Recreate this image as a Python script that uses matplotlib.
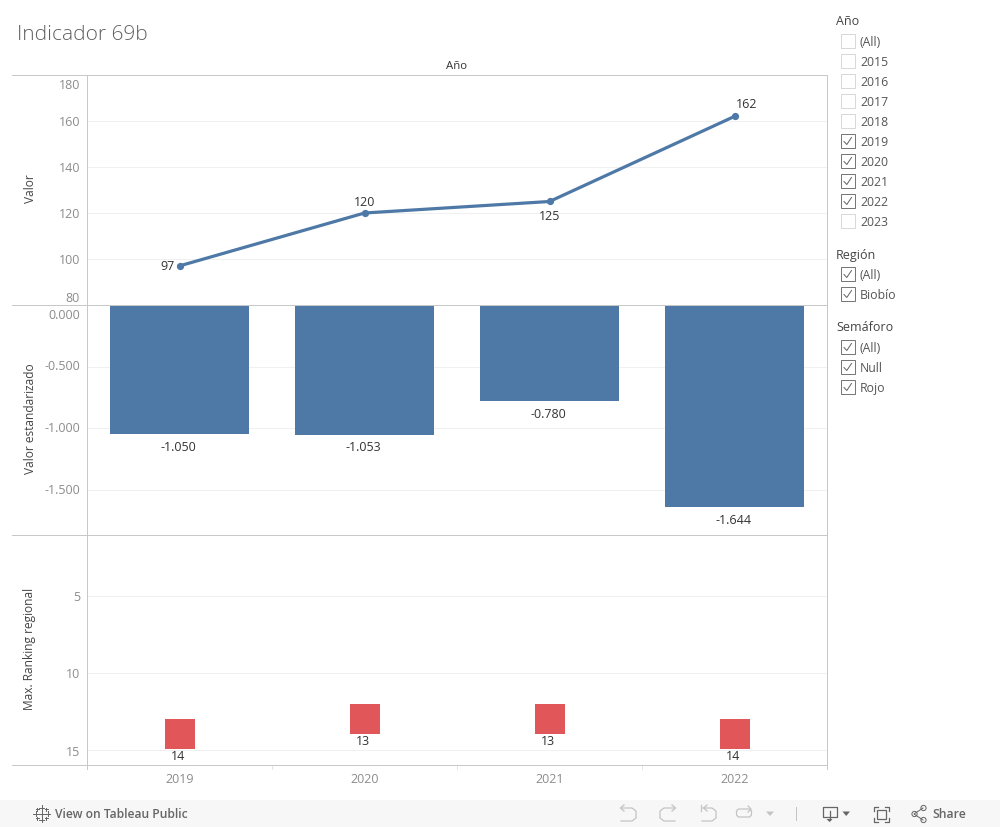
import matplotlib
matplotlib.use("Agg")
import matplotlib.pyplot as plt
from matplotlib.patches import Rectangle, Polygon, Circle, FancyBboxPatch

plt.rcParams['font.family'] = ['Open Sans', 'DejaVu Sans']

years = ['2019', '2020', '2021', '2022']
valor = [97, 120, 125, 162]
estandarizado = [-1.050, -1.053, -0.780, -1.644]
ranking = [14, 13, 13, 14]
filter_anio = ['(All)', '2015', '2016', '2017', '2018', '2019', '2020', '2021', '2022', '2023']
checked_anio = [False, False, False, False, False, True, True, True, True, False]
filter_region = ['(All)', 'Biobío']
filter_semaforo = ['(All)', 'Null', 'Rojo']
valor_ticks = [80, 100, 120, 140, 160, 180]
est_ticks = [0, -0.5, -1.0, -1.5]
rank_ticks = [5, 10, 15]

W, H = 1000, 827
BLUE = '#4e79a7'
RED = '#e15759'
GRID = '#f0f0f0'
AXIS = '#c8c8c8'
TICK = '#8c8c8c'
DARK = '#333333'
LAB = '#444444'
FS = 9
PX = 0.72

fig = plt.figure(figsize=(W / 100, H / 100), dpi=100, facecolor='white')


def panel(top, bottom):
    return fig.add_axes([87 / W, 1 - bottom / H, 740 / W, (bottom - top) / H])


def style(ax):
    ax.set_xlim(-0.5, 3.5)
    ax.set_xticks([])
    ax.tick_params(left=False, labelleft=False)
    ax.grid(axis='y', color=GRID, lw=PX)
    ax.set_axisbelow(True)
    for s in ax.spines.values():
        s.set_visible(False)
    ax.patch.set_alpha(0)


xs = list(range(len(years)))

# Panel 1: line
a1 = panel(75, 305)
style(a1)
a1.set_ylim(80, 180)
a1.set_yticks(valor_ticks)
a1.plot(xs, valor, color=BLUE, lw=2.3, marker='o', ms=4.2, clip_on=False, zorder=3)
line_offsets = [(-12, -1), (0, 11), (0, -15), (12, 11.5)]
for x, v, off in zip(xs, valor, line_offsets):
    a1.annotate(str(v), (x, v), xytext=(off[0] * PX, off[1] * PX), textcoords='offset points',
                ha='center', va='center', fontsize=FS, color=DARK)

# Panel 2: bars
a2 = panel(305, 535)
style(a2)
a2.set_ylim(-230 / 123, 0)
a2.set_yticks(est_ticks)
a2.bar(xs, estandarizado, width=0.75, color=BLUE, zorder=3)
for x, v in zip(xs, estandarizado):
    a2.annotate(f'{v:.3f}', (x, v), xytext=(-0.7, -9.6), textcoords='offset points',
                ha='center', va='center', fontsize=FS, color=DARK)

# Panel 3: squares
a3 = panel(535, 765)
style(a3)
a3.set_ylim(5 + (765 - 596.2) / 15.35, 5 - (596.2 - 535) / 15.35)
a3.set_yticks(rank_ticks)
a3.scatter(xs, ranking, marker='s', s=(30 * PX) ** 2, color=RED, linewidths=0, zorder=3)
for x, v in zip(xs, ranking):
    a3.annotate(str(v), (x, v), xytext=(-1, -16), textcoords='offset points',
                ha='center', va='center', fontsize=FS, color=DARK)

# Overlay in pixel coordinates: frame, axis text, filters, toolbar
ov = fig.add_axes([0, 0, 1, 1], zorder=10)
ov.set_xlim(0, W)
ov.set_ylim(H, 0)
ov.axis('off')
ov.patch.set_alpha(0)


def hv(xv, yv, color=AXIS, lw=PX):
    ov.plot(xv, yv, color=color, lw=lw, solid_capstyle='butt', snap=False)


for y in [75.5, 305.5, 535.5, 765.5]:
    hv([12, 828], [y, y])
hv([87.5, 87.5], [75, 770])
hv([827.5, 827.5], [75, 770])
for x in [272.5, 457.5, 642.5]:
    hv([x, x], [766, 770], color='#e6e6e6')

ov.text(17, 34.5, 'Indicador 69b', fontsize=15, color='#606060', va='center', ha='left', fontweight='light')
ov.text(457, 66.5, 'Año', fontsize=8.2, color=DARK, ha='center', va='center')
for y, t in [(189, 'Valor'), (418.5, 'Valor estandarizado'), (649, 'Max. Ranking regional')]:
    ov.text(30, y, t, rotation=90, fontsize=FS - 0.4, color=LAB, ha='center', va='center')

# Tick labels, edge ones nudged inward like the original
for y, t in [(85.5, '180'), (122.5, '160'), (168.5, '140'), (214.5, '120'), (260.5, '100'), (298, '80'),
             (315.5, '0.000'), (367, '-0.500'), (429, '-1.000'), (491, '-1.500'),
             (597.5, '5'), (675, '10'), (752, '15')]:
    ov.text(80, y, t, fontsize=FS, color=TICK, ha='right', va='center')
for x, t in zip([179.5, 364.5, 549.5, 734.5], years):
    ov.text(x, 779.5, t, fontsize=FS, color=TICK, ha='center', va='center')


def checkbox(y, label, on):
    col = '#777777' if on else '#d8d8d8'
    ov.add_patch(Rectangle((840.5, y - 7.5), 14, 14, fc='white', ec=col, lw=PX))
    if on:
        ov.plot([844, 846.8, 851.5], [y, y + 3, y - 4], color='#666666', lw=PX)
    ov.text(860, y + 0.8, label, fontsize=8.8, color='#555555', ha='left', va='center')


ov.text(836, 21.5, 'Año', fontsize=9, color=LAB, va='center')
for i, (lab, c) in enumerate(zip(filter_anio, checked_anio)):
    checkbox(41.5 + 20 * i, lab, c)
ov.text(836, 255, 'Región', fontsize=9, color=LAB, va='center')
for i, lab in enumerate(filter_region):
    checkbox(274.5 + 20 * i, lab, True)
ov.text(836, 327.5, 'Semáforo', fontsize=9, color=LAB, va='center')
for i, lab in enumerate(filter_semaforo):
    checkbox(347.5 + 20 * i, lab, True)

# Toolbar
ov.add_patch(Rectangle((0, 800), W, 27, fc='#f7f7f7', ec='none'))
TB = '#666666'
OFF = '#c4c4c4'
cx, cy = 41.5, 813.5
for dx, dy, r in [(0, 0, 3), (-6, 0, 2.5), (6, 0, 2.5), (0, -6, 2.5), (0, 6, 2.5),
                  (-4.5, -4.5, 1.5), (4.5, -4.5, 1.5), (-4.5, 4.5, 1.5), (4.5, 4.5, 1.5)]:
    ov.plot([cx + dx - r, cx + dx + r], [cy + dy, cy + dy], color=TB, lw=0.7)
    ov.plot([cx + dx, cx + dx], [cy + dy - r, cy + dy + r], color=TB, lw=0.7)
ov.text(55, 814, 'View on Tableau Public', fontsize=8.7, color=TB, va='center', fontweight='semibold')

# undo / redo / revert / refresh (disabled)
ILW = 0.9
ov.plot([621, 632, 636, 636, 632, 621], [808, 808, 811, 818, 821, 821], color=OFF, lw=ILW)
ov.plot([624, 620.5, 624], [805, 808, 811], color=OFF, lw=ILW)
ov.plot([675, 664, 660, 660, 664, 675], [808, 808, 811, 818, 821, 821], color=OFF, lw=ILW)
ov.plot([672, 675.5, 672], [805, 808, 811], color=OFF, lw=ILW)
ov.plot([703, 712, 716, 716, 712, 702], [808, 808, 811, 818, 821, 821], color=OFF, lw=ILW)
ov.plot([707, 703.5, 707], [805, 808, 811], color=OFF, lw=ILW)
ov.plot([700.5, 700.5], [805, 811], color=OFF, lw=ILW)
ov.add_patch(FancyBboxPatch((736.5, 809), 15, 8, boxstyle='round,pad=0,rounding_size=3', fc='none', ec=OFF, lw=ILW))
ov.plot([748, 751, 748], [806, 809, 812], color=OFF, lw=ILW)
ov.add_patch(Polygon([[766, 811.5], [774, 811.5], [770, 816]], fc=OFF, ec='none'))
ov.plot([795.5, 795.5], [807, 820], color=OFF, lw=PX)
# download
ov.plot([829, 822.5, 822.5, 836.5, 836.5, 831], [817, 817, 806.5, 806.5, 817, 817], color=TB, lw=ILW)
ov.plot([829.5, 829.5], [811, 820], color=TB, lw=ILW)
ov.add_patch(Polygon([[826.5, 819], [832.5, 819], [829.5, 822]], fc=TB, ec='none'))
ov.add_patch(Polygon([[842.5, 811.5], [850, 811.5], [846.2, 816]], fc=TB, ec='none'))
# fullscreen
for px, py, sx, sy in [(873.5, 806.5, 1, 1), (888.5, 806.5, -1, 1), (873.5, 821.5, 1, -1), (888.5, 821.5, -1, -1)]:
    ov.plot([px + 4 * sx, px, px], [py, py, py + 4 * sy], color=TB, lw=ILW)
ov.add_patch(Rectangle((876.5, 809.5), 9, 9, fc='none', ec=TB, lw=ILW))
# share
ov.plot([923, 914, 923], [808, 814, 820], color=TB, lw=PX)
for px, py, r in [(923.5, 808, 2.6), (914.5, 814, 2.6), (923.5, 820, 2.6)]:
    ov.add_patch(Circle((px, py), r, fc='#f7f7f7', ec=TB, lw=PX))
ov.text(932, 814, 'Share', fontsize=8.8, color=TB, va='center', fontweight='semibold')

fig.savefig('out.png', dpi=100)
